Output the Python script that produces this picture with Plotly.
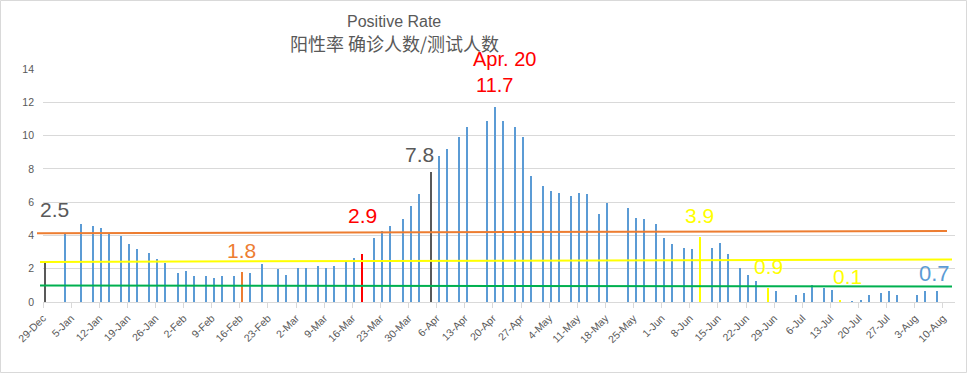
import pandas as pd
import plotly.graph_objects as go

# ---------------- data ----------------
dates = [
    "2020-12-29", "2021-01-03", "2021-01-07", "2021-01-10", "2021-01-12", "2021-01-14",
    "2021-01-17", "2021-01-19", "2021-01-21", "2021-01-24", "2021-01-26", "2021-01-28",
    "2021-01-31", "2021-02-02", "2021-02-04", "2021-02-07", "2021-02-09", "2021-02-11",
    "2021-02-14", "2021-02-16", "2021-02-18", "2021-02-21", "2021-02-25", "2021-02-27",
    "2021-03-02", "2021-03-04", "2021-03-07", "2021-03-09", "2021-03-11", "2021-03-14",
    "2021-03-16", "2021-03-18", "2021-03-21", "2021-03-23", "2021-03-25", "2021-03-28",
    "2021-03-30", "2021-04-01", "2021-04-04", "2021-04-06", "2021-04-08", "2021-04-11",
    "2021-04-13", "2021-04-18", "2021-04-20", "2021-04-22", "2021-04-25", "2021-04-27",
    "2021-04-29", "2021-05-02", "2021-05-04", "2021-05-06", "2021-05-09", "2021-05-11",
    "2021-05-13", "2021-05-16", "2021-05-18", "2021-05-23", "2021-05-25", "2021-05-27",
    "2021-05-30", "2021-06-01", "2021-06-03", "2021-06-06", "2021-06-08", "2021-06-10",
    "2021-06-13", "2021-06-15", "2021-06-17", "2021-06-20", "2021-06-22", "2021-06-24",
    "2021-06-27", "2021-06-29", "2021-07-04", "2021-07-06", "2021-07-08", "2021-07-11",
    "2021-07-13", "2021-07-15", "2021-07-18", "2021-07-20", "2021-07-22", "2021-07-25",
    "2021-07-27", "2021-07-29", "2021-08-03", "2021-08-05", "2021-08-08",
]
positive_rate = [
    2.49, 4.15, 4.71, 4.59, 4.47, 4.13,
    3.99, 3.51, 3.19, 2.97, 2.59, 2.37,
    1.77, 1.89, 1.57, 1.57, 1.45, 1.57,
    1.57, 1.78, 1.75, 2.29, 1.99, 1.63,
    2.05, 2.05, 2.17, 2.05, 2.17, 2.43,
    2.65, 2.89, 3.85, 4.27, 4.57, 4.99,
    5.77, 6.50, 7.82, 8.76, 9.20, 9.90,
    10.50, 10.86, 11.69, 10.86, 10.50, 9.90,
    7.56, 6.98, 6.66, 6.54, 6.38, 6.54,
    6.48, 5.31, 5.95, 5.65, 5.05, 4.99,
    4.69, 3.85, 3.49, 3.25, 3.19, 3.88,
    3.25, 3.55, 2.89, 2.05, 1.63, 1.28,
    0.86, 0.68, 0.44, 0.56, 1.04, 0.86,
    0.74, 0.08, 0.06, 0.14, 0.44, 0.56,
    0.68, 0.44, 0.44, 0.68, 0.68,
]

# highlighted days: date -> colour (style)
highlight = {
    "2020-12-29": "#595959", "2021-02-16": "#ED7D31", "2021-03-18": "#FF0000",
    "2021-04-04": "#595959", "2021-06-10": "#FFFF00", "2021-06-27": "#FFFF00",
    "2021-07-15": "#FFFF00",
}
thick = {"2021-01-07", "2021-01-10", "2021-01-12", "2021-01-14", "2021-01-17",
         "2021-03-04", "2021-03-07", "2021-03-09", "2021-03-11", "2021-03-14", "2021-03-18",
         "2021-05-04", "2021-05-06", "2021-05-09", "2021-05-11", "2021-05-13", "2021-05-16",
         "2021-07-04", "2021-07-06", "2021-07-08", "2021-07-11", "2021-07-13"}

# labelled bars: date -> (colour, xshift, yshift, size)
labels = {
    "2020-12-29": ("#595959", 9, 51, 21),
    "2021-02-16": ("#ED7D31", 0, 22, 21),
    "2021-03-18": ("#FF0000", 0, 38, 21),
    "2021-04-04": ("#595959", -11, 17, 21),
    "2021-04-20": ("#FF0000", 0, 22, 20),
    "2021-06-10": ("#FFFF00", 0, 22, 21),
    "2021-06-27": ("#FFFF00", 0, 21, 21),
    "2021-07-15": ("#FFFF00", 7, 24, 21),
    "2021-08-08": ("#5B9BD5", -2, 17, 22),
}

# reference lines (y at left, y at right)
ref_lines = [
    (4.13, 4.27, "#ED7D31"),
    (2.41, 2.55, "#FFFF00"),
    (0.99, 0.93, "#00B050"),
]

tick_start = "2020-12-29"

# ---------------- figure ----------------
DAY = 86400000
L, R, T, B = 43, 12, 69, 71
W, H = 967 - L - R, 373 - T - B

xs = [pd.Timestamp(d) + pd.Timedelta(hours=12) for d in dates]
colors = [highlight.get(d, "#5B9BD5") for d in dates]
widths = [0.5 * DAY if d in thick else 0.28 * DAY for d in dates]

fig = go.Figure(go.Bar(x=xs, y=positive_rate, width=widths,
                       marker=dict(color=colors, line=dict(width=0)),
                       hoverinfo="x+y"))

start = pd.Timestamp(tick_start)
fig.update_xaxes(
    type="date", automargin=False,
    range=[start, start + pd.Timedelta(days=227)],
    tick0=start, dtick=7 * DAY, tickformat="%-d-%b", tickangle=-45,
    showgrid=False, showline=True, linecolor="#D9D9D9", linewidth=1,
    ticks="outside", ticklen=5, tickcolor="#D9D9D9",
    tickfont=dict(family="Liberation Sans, Arial, sans-serif", size=10.5, color="#595959"),
    zeroline=False,
)
fig.update_yaxes(
    range=[0, 14], dtick=2, showgrid=True, gridcolor="#D9D9D9", gridwidth=1,
    zeroline=False, showline=False, ticks="", ticklabelstandoff=8, automargin=False,
    tickfont=dict(family="Liberation Sans, Arial, sans-serif", size=10.5, color="#595959"),
)

def px_x(p):
    return (p - L) / W

def px_y(p):
    return (373 - B - p) / H

shapes = []
for y0, y1, c in ref_lines:
    x0 = px_x(37) if c == "#ED7D31" else px_x(40)
    x1 = px_x(947) if c == "#ED7D31" else px_x(952)
    shapes.append(dict(type="line", xref="paper", yref="y", x0=x0, x1=x1,
                       y0=y0, y1=y1, line=dict(color=c, width=2), layer="above"))
shapes.append(dict(type="rect", xref="paper", yref="paper",
                   x0=px_x(0.5), x1=px_x(966.5), y0=px_y(372.5), y1=px_y(0.5),
                   line=dict(color="#D9D9D9", width=1), layer="below"))

annotations = []
val_of = dict(zip(dates, positive_rate))
for d, (c, xs_, ys_, sz) in labels.items():
    annotations.append(dict(
        x=pd.Timestamp(d) + pd.Timedelta(hours=12), y=val_of[d], xref="x", yref="y",
        text=f"{val_of[d]:.1f}", showarrow=False, xanchor="center", yanchor="middle",
        xshift=xs_, yshift=ys_, borderpad=0,
        font=dict(family="Liberation Sans, Arial, sans-serif", size=sz, color=c)))
peak = "2021-04-20"
annotations.append(dict(
    x=pd.Timestamp(peak) + pd.Timedelta(hours=12), y=val_of[peak], xref="x", yref="y",
    text="Apr. 20", showarrow=False, xanchor="center", yanchor="middle",
    xshift=10, yshift=48, borderpad=0,
    font=dict(family="Liberation Sans, Arial, sans-serif", size=20, color="#FF0000")))

annotations.append(dict(x=px_x(394), y=px_y(22), xref="paper", yref="paper",
                        text="Positive Rate", showarrow=False, xanchor="center", yanchor="middle",
                        font=dict(family="Liberation Sans, Arial, sans-serif", size=16, color="#595959")))
annotations.append(dict(x=px_x(394.5), y=px_y(43.5), xref="paper", yref="paper",
                        text="阳性率 确诊人数/测试人数", showarrow=False, xanchor="center", yanchor="middle",
                        font=dict(family="Noto Sans CJK SC, sans-serif", size=18, color="#595959")))

fig.update_layout(
    width=967, height=373,
    margin=dict(l=L, r=R, t=T, b=B, autoexpand=False),
    paper_bgcolor="white", plot_bgcolor="white",
    showlegend=False, bargap=0,
    shapes=shapes, annotations=annotations,
)

fig.write_html("out.html", config={"displayModeBar": False},
               post_script="document.body.style.margin='0';")
